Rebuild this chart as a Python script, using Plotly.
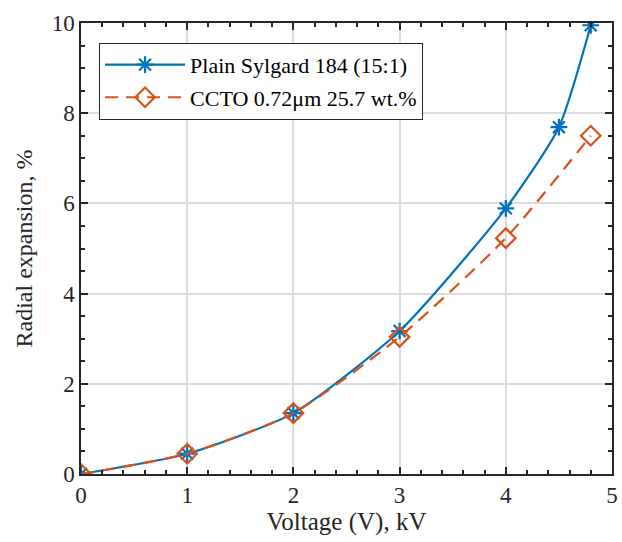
import plotly.graph_objects as go

x_plain = [0, 1, 2, 3, 4, 4.5, 4.8]
y_plain = [0, 0.45, 1.35, 3.17, 5.89, 7.69, 9.95]
x_ccto = [0, 1, 2, 3, 4, 4.8]
y_ccto = [0, 0.45, 1.35, 3.04, 5.23, 7.50]

name_plain = "Plain Sylgard 184 (15:1)"
name_ccto = "CCTO 0.72μm 25.7 wt.%"

BLUE = "#0072BD"
ORANGE = "#D95319"
FONT = "Liberation Serif"
DARK = "#262626"

fig = go.Figure()
fig.add_trace(go.Scatter(
    x=x_plain, y=y_plain, name=name_plain, mode="lines+markers", legendgroup="a",
    line=dict(color=BLUE, width=2.2, shape="spline", smoothing=0.6),
    marker=dict(symbol="asterisk-open", size=14, color=BLUE, line=dict(color=BLUE, width=2.2)),
))
fig.add_trace(go.Scatter(
    x=x_ccto, y=y_ccto, name=name_ccto, mode="lines+markers", legendgroup="b",
    line=dict(color=ORANGE, width=2.2, dash="13px,8px", shape="spline", smoothing=0.6),
    marker=dict(symbol="diamond-open", size=15, color=ORANGE, line=dict(color=ORANGE, width=2.2)),
))

axis_common = dict(
    showline=True, linecolor=DARK, linewidth=1.5, mirror="ticks",
    ticks="inside", ticklen=7, tickwidth=1.5, tickcolor=DARK,
    showgrid=True, gridcolor="#DCDCDC", gridwidth=1.5,
    zeroline=False, ticklabeloverflow="allow",
    tickfont=dict(family=FONT, size=23, color=DARK),
)

fig.update_xaxes(
    range=[0, 5], dtick=1, tick0=0,
    title=dict(text="Voltage (V), kV", font=dict(family=FONT, size=25, color=DARK), standoff=2),
    minor=dict(dtick=0.2, ticks="inside", ticklen=4, tickwidth=1.5, tickcolor=DARK, showgrid=False),
    **axis_common,
)
fig.update_yaxes(
    range=[0, 10], dtick=2, tick0=0,
    title=dict(text="Radial expansion, %", font=dict(family=FONT, size=24, color=DARK), standoff=12),
    minor=dict(dtick=0.5, ticks="inside", ticklen=4, tickwidth=1.5, tickcolor=DARK, showgrid=False),
    **axis_common,
)

fig.update_layout(
    width=622, height=542,
    margin=dict(l=81, r=4, t=23, b=68),
    paper_bgcolor="white", plot_bgcolor="white",
    showlegend=True,
    legend=dict(
        x=0.034, y=0.956, xanchor="left", yanchor="top",
        bgcolor="white", bordercolor=DARK, borderwidth=1,
        font=dict(family=FONT, size=22, color="#000000"),
        itemwidth=80, tracegroupgap=1,
    ),
)

fig.write_html("out.html")
